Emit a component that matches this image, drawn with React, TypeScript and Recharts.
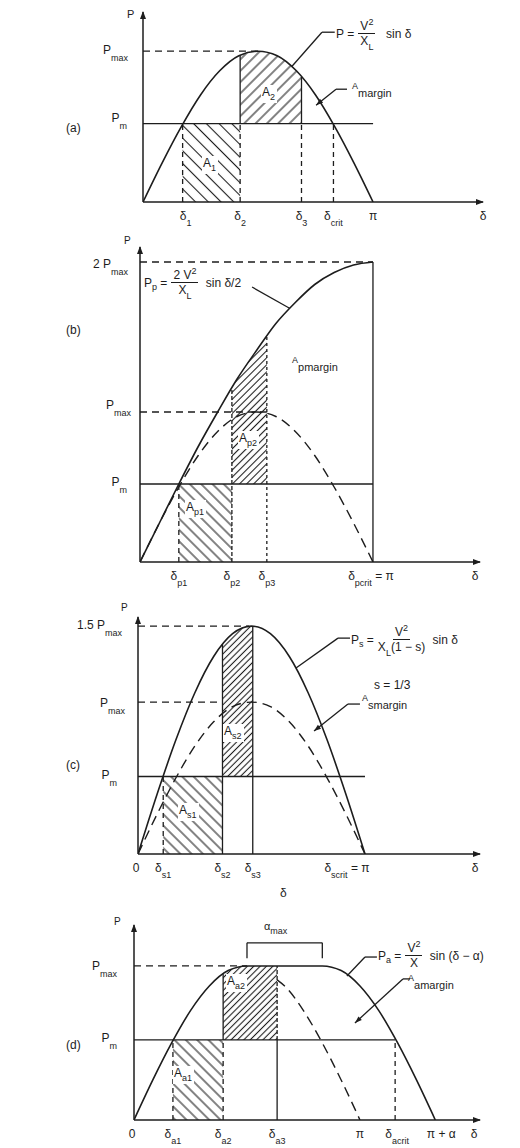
import type { ReactNode } from "react";
import {
  Area,
  ComposedChart,
  Line,
  ReferenceArea,
  ReferenceDot,
  ReferenceLine,
  XAxis,
  YAxis,
} from "recharts";

const INK = "#1d1d1d";
const FONT = "'Liberation Sans', Arial, sans-serif";

// load angle samples in degrees
const DELTA = [0, 15, 30, 45, 60, 75, 90, 105, 120, 135, 150, 165, 180];
const DELTA_WIDE = [0, 15, 30, 45, 60, 75, 90, 105, 120, 135, 150, 165, 180, 195, 210, 225, 240];

// (a) uncompensated line, P / Pmax
const aP = [0, 0.26, 0.5, 0.71, 0.87, 0.97, 1, 0.97, 0.87, 0.71, 0.5, 0.26, 0];
const aPm = 0.52;
const aDelta1 = 31;
const aDelta2 = 76;
const aDelta3 = 124;
const aCrit = 149;
const aA2At = [76, 90, 105, 120, 124];
const aA2Top = [0.97, 1, 0.97, 0.87, 0.83];

// (b) shunt compensation at midpoint
const bPp = [0, 0.26, 0.52, 0.77, 1.0, 1.22, 1.41, 1.59, 1.73, 1.85, 1.93, 1.98, 2.0];
const bP = [0, 0.26, 0.5, 0.71, 0.87, 0.97, 1, 0.97, 0.87, 0.71, 0.5, 0.26, 0];
const bPm = 0.52;
const bDelta1 = 30;
const bDelta2 = 71;
const bDelta3 = 98;
const bA2At = [71, 75, 90, 98];
const bA2Top = [1.16, 1.22, 1.41, 1.51];

// (c) series compensation, s = 1/3
const cPs = [0, 0.39, 0.75, 1.06, 1.3, 1.45, 1.5, 1.45, 1.3, 1.06, 0.75, 0.39, 0];
const cP = [0, 0.26, 0.5, 0.71, 0.87, 0.97, 1, 0.97, 0.87, 0.71, 0.5, 0.26, 0];
const cPm = 0.51;
const cDelta1 = 20;
const cDelta2 = 67;
const cDelta3 = 91;
const cA2At = [67, 75, 90, 91];
const cA2Top = [1.38, 1.45, 1.5, 1.5];

// (d) phase angle regulator, alpha = 60 deg
const dPa = [0, 0.26, 0.5, 0.71, 0.87, 0.97, 1, 1, 1, 1, 1, 0.97, 0.87, 0.71, 0.5, 0.26, 0];
const dSinAt = [114, 120, 135, 150, 165, 180];
const dSin = [0.91, 0.87, 0.71, 0.5, 0.26, 0];
const dPm = 0.52;
const dDelta1 = 31;
const dDelta2 = 71;
const dDelta3 = 114;
const dCrit = 208;
const dAlphaFrom = 90;
const dAlphaTo = 150;
const dPiPlusAlpha = 240;
const dA2At = [71, 75, 90, 105, 114];
const dA2Top = [0.95, 0.97, 1, 1, 1];

const toPoints = (xs: number[], ys: number[]) => xs.map((d, i) => ({ d, p: ys[i] }));
const toBand = (xs: number[], low: number, tops: number[]) =>
  xs.map((d, i) => ({ d, band: [low, tops[i]] }));

type AxisLabel = { v: number; text: string; sub?: string; tail?: string; dx?: number; dy?: number };

const xTick = (labels: AxisLabel[]) => (props: any) => {
  const { x, y, payload } = props;
  const l = labels.find((t) => t.v === payload.value);
  if (!l) return <g />;
  return (
    <text
      x={x + (l.dx ?? 0)}
      y={y + 18 + (l.dy ?? 0)}
      textAnchor="middle"
      fontFamily={FONT}
      fontSize={12}
      fill={INK}
    >
      {l.text}
      {l.sub ? (
        <tspan dy={6} fontSize={9}>
          {l.sub}
        </tspan>
      ) : null}
      {l.tail ? <tspan dy={l.sub ? -6 : 0}>{l.tail}</tspan> : null}
    </text>
  );
};

const yTick = (labels: AxisLabel[]) => (props: any) => {
  const { x, y, payload } = props;
  const l = labels.find((t) => t.v === payload.value);
  if (!l) return <g />;
  return (
    <text
      x={x - (l.dx ?? 14)}
      y={y + (l.dy ?? 2)}
      textAnchor="end"
      fontFamily={FONT}
      fontSize={12}
      fill={INK}
    >
      {l.text}
      {l.sub ? (
        <tspan dy={7} fontSize={9}>
          {l.sub}
        </tspan>
      ) : null}
    </text>
  );
};

const seg = (k: string, x1: number, y1: number, x2: number, y2: number, dash?: string) => (
  <ReferenceLine
    key={k}
    segment={[
      { x: x1, y: y1 },
      { x: x2, y: y2 },
    ]}
    stroke={INK}
    strokeWidth={1.3}
    strokeDasharray={dash}
    ifOverflow="visible"
  />
);

const xArrow = (p: any) => (
  <polygon points={`${p.cx + 1},${p.cy} ${p.cx - 7},${p.cy - 3} ${p.cx - 7},${p.cy + 3}`} fill={INK} />
);
const yArrow = (p: any) => (
  <polygon points={`${p.cx},${p.cy - 1} ${p.cx - 3},${p.cy + 7} ${p.cx + 3},${p.cy + 7}`} fill={INK} />
);
const tip = (angle: number) => (p: any) => (
  <polygon points="0,0 -7,-2.5 -7,2.5" transform={`translate(${p.cx},${p.cy}) rotate(${angle})`} fill={INK} />
);

const hatches = (id: string, fwd: number, back: number) => (
  <defs>
    <pattern id={`${id}-fwd`} width={fwd} height={fwd} patternUnits="userSpaceOnUse" patternTransform="rotate(45)">
      <line x1={fwd / 2} y1={0} x2={fwd / 2} y2={fwd} stroke={INK} strokeWidth={1.1} />
    </pattern>
    <pattern id={`${id}-back`} width={back} height={back} patternUnits="userSpaceOnUse" patternTransform="rotate(-45)">
      <line x1={back / 2} y1={0} x2={back / 2} y2={back} stroke={INK} strokeWidth={1.1} />
    </pattern>
  </defs>
);

const DASH_H = "7 5";
const DASH_V = "5 4";
const DASH_CURVE = "10 6";
const AXIS = { stroke: INK, strokeWidth: 1.5 };

function PanelA() {
  const xMax = 266;
  const yMax = 1.26;
  const xLabels: AxisLabel[] = [
    { v: aDelta1, text: "δ", sub: "1", dx: 3 },
    { v: aDelta2, text: "δ", sub: "2" },
    { v: aDelta3, text: "δ", sub: "3" },
    { v: aCrit, text: "δ", sub: "crit" },
    { v: 180, text: "π" },
    { v: xMax, text: "δ" },
  ];
  const yLabels: AxisLabel[] = [
    { v: 1, text: "P", sub: "max", dx: 15, dy: 3 },
    { v: aPm, text: "P", sub: "m", dx: 16, dy: -2 },
  ];
  return (
    <div style={{ position: "absolute", left: 0, top: 0 }}>
      <ComposedChart width={520} height={230} margin={{ top: 12, right: 37, bottom: 0, left: 0 }}>
        {hatches("ha", 8, 9)}
        <XAxis
          dataKey="d"
          type="number"
          domain={[0, xMax]}
          allowDataOverflow
          ticks={xLabels.map((l) => l.v)}
          interval={0}
          tick={xTick(xLabels)}
          tickLine={false}
          tickSize={0}
          tickMargin={0}
          height={28}
          axisLine={AXIS}
        />
        <YAxis
          type="number"
          domain={[0, yMax]}
          allowDataOverflow
          ticks={yLabels.map((l) => l.v)}
          interval={0}
          tick={yTick(yLabels)}
          tickLine={false}
          tickSize={0}
          tickMargin={0}
          width={143}
          axisLine={AXIS}
        />
        <ReferenceArea x1={aDelta1} x2={aDelta2} y1={0} y2={aPm} fill="url(#ha-back)" fillOpacity={1} stroke="none" />
        <Area
          data={toBand(aA2At, aPm, aA2Top)}
          dataKey="band"
          type="monotone"
          fill="url(#ha-fwd)"
          fillOpacity={1}
          stroke="none"
          isAnimationActive={false}
        />
        <Line
          data={toPoints(DELTA, aP)}
          dataKey="p"
          type="monotone"
          stroke={INK}
          strokeWidth={1.6}
          dot={false}
          isAnimationActive={false}
        />
        {seg("pm", 0, aPm, 180, aPm)}
        {seg("pmax", 0, 1, 90, 1, DASH_H)}
        {seg("d1", aDelta1, 0, aDelta1, aPm, DASH_V)}
        {seg("d2lo", aDelta2, 0, aDelta2, aPm, DASH_V)}
        {seg("d2hi", aDelta2, aPm, aDelta2, 0.97)}
        {seg("d3hi", aDelta3, aPm, aDelta3, 0.83)}
        {seg("d3lo", aDelta3, 0, aDelta3, aPm, DASH_V)}
        {seg("crit", aCrit, 0, aCrit, aPm, DASH_V)}
        {seg("lf1", 150, 1.126, 140, 1.126)}
        {seg("lf2", 140, 1.126, 116.6, 0.9)}
        {seg("lm1", 159.6, 0.748, 151, 0.748)}
        {seg("lm2", 151, 0.748, 135.4, 0.642)}
        <ReferenceDot x={135.4} y={0.642} r={0} shape={tip(141)} ifOverflow="visible" />
        <ReferenceDot x={xMax} y={0} r={0} shape={xArrow} ifOverflow="visible" />
        <ReferenceDot x={0} y={yMax} r={0} shape={yArrow} ifOverflow="visible" />
      </ComposedChart>
    </div>
  );
}

function PanelB() {
  const xMax = 262.7;
  const yMax = 2.1;
  const xLabels: AxisLabel[] = [
    { v: bDelta1, text: "δ", sub: "p1" },
    { v: bDelta2, text: "δ", sub: "p2" },
    { v: bDelta3, text: "δ", sub: "p3" },
    { v: 180, text: "δ", sub: "pcrit", tail: " = π", dx: -2 },
    { v: xMax, text: "δ", dx: -5 },
  ];
  const yLabels: AxisLabel[] = [
    { v: 2, text: "2 P", sub: "max", dx: 12, dy: 6 },
    { v: 1, text: "P", sub: "max", dx: 9, dy: -3 },
    { v: bPm, text: "P", sub: "m", dx: 13, dy: 2 },
  ];
  return (
    <div style={{ position: "absolute", left: 0, top: 232 }}>
      <ComposedChart width={520} height={358} margin={{ top: 15, right: 40, bottom: 0, left: 0 }}>
        {hatches("hb", 5, 8)}
        <XAxis
          dataKey="d"
          type="number"
          domain={[0, xMax]}
          allowDataOverflow
          ticks={xLabels.map((l) => l.v)}
          interval={0}
          tick={xTick(xLabels)}
          tickLine={false}
          tickSize={0}
          tickMargin={0}
          height={28}
          axisLine={AXIS}
        />
        <YAxis
          type="number"
          domain={[0, yMax]}
          allowDataOverflow
          ticks={yLabels.map((l) => l.v)}
          interval={0}
          tick={yTick(yLabels)}
          tickLine={false}
          tickSize={0}
          tickMargin={0}
          width={140}
          axisLine={AXIS}
        />
        <ReferenceArea x1={bDelta1} x2={bDelta2} y1={0} y2={bPm} fill="url(#hb-back)" fillOpacity={1} stroke="none" />
        <Area
          data={toBand(bA2At, bPm, bA2Top)}
          dataKey="band"
          type="monotone"
          fill="url(#hb-fwd)"
          fillOpacity={1}
          stroke="none"
          isAnimationActive={false}
        />
        <Line
          data={toPoints(DELTA, bPp)}
          dataKey="p"
          type="monotone"
          stroke={INK}
          strokeWidth={1.6}
          dot={false}
          isAnimationActive={false}
        />
        <Line
          data={toPoints(DELTA, bP)}
          dataKey="p"
          type="monotone"
          stroke={INK}
          strokeWidth={1.4}
          strokeDasharray={DASH_CURVE}
          dot={false}
          isAnimationActive={false}
        />
        {seg("top", 0, 2, 180, 2, DASH_H)}
        {seg("pi", 180, 0, 180, 2)}
        {seg("pmax", 0, 1, bDelta3, 1, DASH_H)}
        {seg("pm", 0, bPm, 180, bPm)}
        {seg("d1", bDelta1, 0, bDelta1, bPm, DASH_V)}
        {seg("d2lo", bDelta2, 0, bDelta2, bPm, "4 2")}
        {seg("d2hi", bDelta2, bPm, bDelta2, 1.16, "4 2")}
        {seg("d3", bDelta3, 0, bDelta3, 1.51, "3 3")}
        {seg("lf", 86.6, 1.833, 115.9, 1.69)}
        <ReferenceDot x={xMax} y={0} r={0} shape={xArrow} ifOverflow="visible" />
        <ReferenceDot x={0} y={yMax} r={0} shape={yArrow} ifOverflow="visible" />
      </ComposedChart>
    </div>
  );
}

function PanelC() {
  const xMax = 271.2;
  const yMax = 1.56;
  const xLabels: AxisLabel[] = [
    { v: 0, text: "0", dx: -2 },
    { v: cDelta1, text: "δ", sub: "s1" },
    { v: cDelta2, text: "δ", sub: "s2" },
    { v: cDelta3, text: "δ", sub: "s3" },
    { v: 180, text: "δ", sub: "scrit", tail: " = π", dx: -18 },
    { v: xMax, text: "δ", dx: -5 },
  ];
  const yLabels: AxisLabel[] = [
    { v: 1.5, text: "1.5 P", sub: "max", dx: 16, dy: 3 },
    { v: 1, text: "P", sub: "max", dx: 13, dy: 5 },
    { v: cPm, text: "P", sub: "m", dx: 21, dy: 2 },
  ];
  return (
    <div style={{ position: "absolute", left: 0, top: 600 }}>
      <ComposedChart width={520} height={282} margin={{ top: 17, right: 40, bottom: 0, left: 0 }}>
        {hatches("hc", 4.5, 8)}
        <XAxis
          dataKey="d"
          type="number"
          domain={[0, xMax]}
          allowDataOverflow
          ticks={xLabels.map((l) => l.v)}
          interval={0}
          tick={xTick(xLabels)}
          tickLine={false}
          tickSize={0}
          tickMargin={0}
          height={28}
          axisLine={AXIS}
        />
        <YAxis
          type="number"
          domain={[0, yMax]}
          allowDataOverflow
          ticks={yLabels.map((l) => l.v)}
          interval={0}
          tick={yTick(yLabels)}
          tickLine={false}
          tickSize={0}
          tickMargin={0}
          width={138}
          axisLine={AXIS}
        />
        <ReferenceArea x1={cDelta1} x2={cDelta2} y1={0} y2={cPm} fill="url(#hc-back)" fillOpacity={1} stroke="none" />
        <Area
          data={toBand(cA2At, cPm, cA2Top)}
          dataKey="band"
          type="monotone"
          fill="url(#hc-fwd)"
          fillOpacity={1}
          stroke="none"
          isAnimationActive={false}
        />
        <Line
          data={toPoints(DELTA, cPs)}
          dataKey="p"
          type="monotone"
          stroke={INK}
          strokeWidth={1.6}
          dot={false}
          isAnimationActive={false}
        />
        <Line
          data={toPoints(DELTA, cP)}
          dataKey="p"
          type="monotone"
          stroke={INK}
          strokeWidth={1.4}
          strokeDasharray={DASH_CURVE}
          dot={false}
          isAnimationActive={false}
        />
        {seg("top", 0, 1.5, 88, 1.5, DASH_H)}
        {seg("pmax", 0, 1, cDelta2, 1, DASH_H)}
        {seg("pm", 0, cPm, 180, cPm)}
        {seg("d1", cDelta1, 0, cDelta1, cPm, DASH_V)}
        {seg("d2", cDelta2, 0, cDelta2, 1.38)}
        {seg("d3", cDelta3, 0, cDelta3, 1.5)}
        {seg("lf1", 168.1, 1.421, 158.6, 1.421)}
        {seg("lf2", 158.6, 1.421, 125.3, 1.224)}
        {seg("lm1", 176, 0.987, 166.5, 0.987)}
        {seg("lm2", 166.5, 0.987, 139.6, 0.809)}
        <ReferenceDot x={139.6} y={0.809} r={0} shape={tip(141)} ifOverflow="visible" />
        <ReferenceDot x={xMax} y={0} r={0} shape={xArrow} ifOverflow="visible" />
        <ReferenceDot x={0} y={yMax} r={0} shape={yArrow} ifOverflow="visible" />
      </ComposedChart>
    </div>
  );
}

function PanelD() {
  const xMax = 275.6;
  const yMax = 1.266;
  const xLabels: AxisLabel[] = [
    { v: 0, text: "0", dx: -2 },
    { v: dDelta1, text: "δ", sub: "a1" },
    { v: dDelta2, text: "δ", sub: "a2" },
    { v: dDelta3, text: "δ", sub: "a3" },
    { v: 180, text: "π" },
    { v: dCrit, text: "δ", sub: "acrit", dx: 2 },
    { v: dPiPlusAlpha, text: "π + α", dx: 6 },
    { v: xMax, text: "δ", dx: -6 },
  ];
  const yLabels: AxisLabel[] = [
    { v: 1, text: "P", sub: "max", dx: 17, dy: 4 },
    { v: dPm, text: "P", sub: "m", dx: 17, dy: 2 },
  ];
  return (
    <div style={{ position: "absolute", left: 0, top: 905 }}>
      <ComposedChart width={520} height={243} margin={{ top: 20, right: 40, bottom: 0, left: 0 }}>
        {hatches("hd", 4.5, 8)}
        <XAxis
          dataKey="d"
          type="number"
          domain={[0, xMax]}
          allowDataOverflow
          ticks={xLabels.map((l) => l.v)}
          interval={0}
          tick={xTick(xLabels)}
          tickLine={false}
          tickSize={0}
          tickMargin={0}
          height={28}
          axisLine={AXIS}
        />
        <YAxis
          type="number"
          domain={[0, yMax]}
          allowDataOverflow
          ticks={yLabels.map((l) => l.v)}
          interval={0}
          tick={yTick(yLabels)}
          tickLine={false}
          tickSize={0}
          tickMargin={0}
          width={134}
          axisLine={AXIS}
        />
        <ReferenceArea x1={dDelta1} x2={dDelta2} y1={0} y2={dPm} fill="url(#hd-back)" fillOpacity={1} stroke="none" />
        <Area
          data={toBand(dA2At, dPm, dA2Top)}
          dataKey="band"
          type="monotone"
          fill="url(#hd-fwd)"
          fillOpacity={1}
          stroke="none"
          isAnimationActive={false}
        />
        <Line
          data={toPoints(DELTA_WIDE, dPa)}
          dataKey="p"
          type="monotone"
          stroke={INK}
          strokeWidth={1.6}
          dot={false}
          isAnimationActive={false}
        />
        <Line
          data={toPoints(dSinAt, dSin)}
          dataKey="p"
          type="monotone"
          stroke={INK}
          strokeWidth={1.4}
          strokeDasharray={DASH_CURVE}
          dot={false}
          isAnimationActive={false}
        />
        {seg("pmax", 0, 1, 90, 1, DASH_H)}
        {seg("pm", 0, dPm, dCrit, dPm)}
        {seg("d1", dDelta1, 0, dDelta1, dPm, DASH_V)}
        {seg("d2lo", dDelta2, 0, dDelta2, dPm, DASH_V)}
        {seg("d2hi", dDelta2, dPm, dDelta2, 0.95)}
        {seg("d3lo", dDelta3, 0, dDelta3, dPm)}
        {seg("d3hi", dDelta3, dPm, dDelta3, 1, "4 2")}
        {seg("crit", dCrit, 0, dCrit, dPm, DASH_V)}
        {seg("br", dAlphaFrom, 1.15, dAlphaTo, 1.15)}
        {seg("brl", dAlphaFrom, 1.05, dAlphaFrom, 1.15)}
        {seg("brr", dAlphaTo, 1.05, dAlphaTo, 1.15)}
        {seg("lf1", 193.5, 1.058, 184, 1.058)}
        {seg("lf2", 184, 1.058, 169.6, 0.935)}
        {seg("lm1", 219.8, 0.916, 214.2, 0.916)}
        {seg("lm2", 214.2, 0.916, 176, 0.63)}
        <ReferenceDot x={176} y={0.63} r={0} shape={tip(137.5)} ifOverflow="visible" />
        <ReferenceDot x={xMax} y={0} r={0} shape={xArrow} ifOverflow="visible" />
        <ReferenceDot x={0} y={yMax} r={0} shape={yArrow} ifOverflow="visible" />
      </ComposedChart>
    </div>
  );
}

const Note = ({
  x,
  y,
  size = 12,
  clear = false,
  children,
}: {
  x: number;
  y: number;
  size?: number;
  clear?: boolean;
  children: ReactNode;
}) => (
  <div
    style={{
      position: "absolute",
      left: x,
      top: y,
      fontSize: size,
      lineHeight: 1,
      fontFamily: FONT,
      color: INK,
      whiteSpace: "nowrap",
      display: "flex",
      alignItems: "center",
      // labels sitting on hatching get a small white patch behind them
      background: clear ? "#fff" : "transparent",
      padding: clear ? "1px 2px 5px 1px" : 0,
    }}
  >
    {children}
  </div>
);

const Sub = ({ children, size = 9, drop = 5 }: { children: ReactNode; size?: number; drop?: number }) => (
  <span style={{ fontSize: size, position: "relative", top: drop }}>{children}</span>
);

const Sup = ({ children }: { children: ReactNode }) => (
  <span style={{ fontSize: 9, position: "relative", top: -5 }}>{children}</span>
);

const Frac = ({ num, den }: { num: ReactNode; den: ReactNode }) => (
  <span
    style={{
      display: "inline-flex",
      flexDirection: "column",
      alignItems: "center",
      margin: "0 4px",
    }}
  >
    <span style={{ padding: "0 2px 1px", borderBottom: `1px solid ${INK}` }}>{num}</span>
    <span style={{ paddingTop: 1 }}>{den}</span>
  </span>
);

const Mark = ({ main, sub }: { main: string; sub: string }) => (
  <>
    {main}
    <Sub>{sub}</Sub>
  </>
);

const Margin = ({ sub }: { sub: string }) => (
  <>
    <span style={{ fontSize: 9, position: "relative", top: -3 }}>A</span>
    <Sub size={11} drop={4}>
      {sub}
    </Sub>
  </>
);

export default function App() {
  return (
    <div
      style={{
        position: "absolute",
        left: 0,
        top: 0,
        width: 520,
        height: 1148,
        background: "#fff",
        overflow: "hidden",
      }}
    >
      <PanelA />
      <PanelB />
      <PanelC />
      <PanelD />

      {/* (a) */}
      <Note x={66} y={122}>(a)</Note>
      <Note x={127} y={9} size={11}>P</Note>
      <Note x={336} y={20}>
        P&nbsp;=
        <Frac
          num={
            <>
              V<Sup>2</Sup>
            </>
          }
          den={<Mark main="X" sub="L" />}
        />
        &nbsp;&nbsp;sin δ
      </Note>
      <Note x={352} y={84}>
        <Margin sub="margin" />
      </Note>
      <Note x={261} y={85} clear>
        <Mark main="A" sub="2" />
      </Note>
      <Note x={202} y={156} clear>
        <Mark main="A" sub="1" />
      </Note>

      {/* (b) */}
      <Note x={66} y={324}>(b)</Note>
      <Note x={124} y={236} size={10}>P</Note>
      <Note x={144} y={269}>
        <Mark main="P" sub="p" />
        &nbsp;=
        <Frac
          num={
            <>
              2 V<Sup>2</Sup>
            </>
          }
          den={<Mark main="X" sub="L" />}
        />
        &nbsp;sin δ/2
      </Note>
      <Note x={292} y={358}>
        <Margin sub="pmargin" />
      </Note>
      <Note x={238} y={431} clear>
        <Mark main="A" sub="p2" />
      </Note>
      <Note x={185} y={500} clear>
        <Mark main="A" sub="p1" />
      </Note>

      {/* (c) */}
      <Note x={66} y={759}>(c)</Note>
      <Note x={121} y={603} size={10}>P</Note>
      <Note x={351} y={626}>
        <Mark main="P" sub="s" />
        &nbsp;=
        <Frac
          num={
            <>
              V<Sup>2</Sup>
            </>
          }
          den={
            <>
              X<Sub>L</Sub>(1 − s)
            </>
          }
        />
        &nbsp;sin δ
      </Note>
      <Note x={374} y={679}>s = 1/3</Note>
      <Note x={362} y={696}>
        <Margin sub="smargin" />
      </Note>
      <Note x={223} y={724} clear>
        <Mark main="A" sub="s2" />
      </Note>
      <Note x={178} y={803} clear>
        <Mark main="A" sub="s1" />
      </Note>
      <Note x={280} y={887}>δ</Note>

      {/* (d) */}
      <Note x={66} y={1039}>(d)</Note>
      <Note x={114} y={917} size={10}>P</Note>
      <Note x={264} y={921} size={11}>
        α<Sub>max</Sub>
      </Note>
      <Note x={378} y={942}>
        <Mark main="P" sub="a" />
        &nbsp;=
        <Frac
          num={
            <>
              V<Sup>2</Sup>
            </>
          }
          den="X"
        />
        &nbsp;sin (δ − α)
      </Note>
      <Note x={408} y={976}>
        <Margin sub="amargin" />
      </Note>
      <Note x={226} y={974} clear>
        <Mark main="A" sub="a2" />
      </Note>
      <Note x={173} y={1066} clear>
        <Mark main="A" sub="a1" />
      </Note>
    </div>
  );
}
